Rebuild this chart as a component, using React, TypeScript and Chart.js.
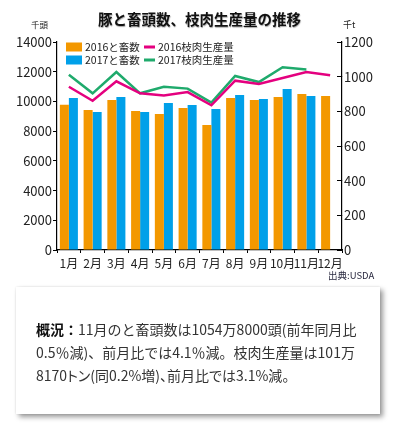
import React, { useEffect, useRef } from "react";
import { Chart, registerables } from "chart.js";

Chart.register(...registerables);

const months = ["1月", "2月", "3月", "4月", "5月", "6月", "7月", "8月", "9月", "10月", "11月", "12月"];
const heads2016 = [9780, 9420, 10100, 9360, 9150, 9560, 8410, 10230, 10100, 10300, 10500, 10370];
const heads2017: (number | null)[] = [10230, 9290, 10300, 9290, 9890, 9760, 9490, 10430, 10160, 10840, 10370, null];
const carcass2016 = [942, 861, 973, 904, 892, 911, 835, 977, 958, 992, 1027, 1008];
const carcass2017: (number | null)[] = [1011, 904, 1027, 904, 942, 931, 850, 1004, 969, 1054, 1042, null];
const seriesLabels = ["2016と畜数", "2017と畜数", "2016枝肉生産量", "2017枝肉生産量"];
const leftAxis = { min: 0, max: 14000, step: 2000 };
const rightAxis = { min: 0, max: 1200, step: 200 };

const FONT = "'Noto Sans CJK JP', 'Noto Sans', sans-serif";
const ORANGE = "#F39800";
const BLUE = "#00A0E9";
const PINK = "#E4007F";
const GREEN = "#1FAA6C";

const insideLegend = {
  id: "insideLegend",
  afterDraw(chart: any) {
    const ctx = chart.ctx;
    const area = chart.chartArea;
    const ds = chart.data.datasets;
    const col1 = area.left + 9;
    const col2 = area.left + 87;
    const rows = [area.top + 5, area.top + 18];
    ctx.save();
    ctx.font = `10.5px ${FONT}`;
    ctx.textBaseline = "middle";
    ctx.textAlign = "left";
    ctx.fillStyle = "#222";
    const items = [
      { d: ds[0], x: col1, y: rows[0], bar: true },
      { d: ds[1], x: col1, y: rows[1], bar: true },
      { d: ds[2], x: col2, y: rows[0], bar: false },
      { d: ds[3], x: col2, y: rows[1], bar: false },
    ];
    for (const it of items) {
      if (it.bar) {
        ctx.fillStyle = it.d.backgroundColor;
        ctx.fillRect(it.x, it.y - 4.5, 16, 9);
        ctx.fillStyle = "#222";
        ctx.fillText(it.d.label, it.x + 19, it.y);
      } else {
        ctx.strokeStyle = it.d.borderColor;
        ctx.lineWidth = 3;
        ctx.beginPath();
        ctx.moveTo(it.x, it.y);
        ctx.lineTo(it.x + 11, it.y);
        ctx.stroke();
        ctx.fillStyle = "#222";
        ctx.fillText(it.d.label, it.x + 14, it.y);
      }
    }
    ctx.restore();
  },
};

const plain = (v: any) => String(v);

function ChartCanvas() {
  const ref = useRef<HTMLCanvasElement | null>(null);
  useEffect(() => {
    if (!ref.current) return;
    Chart.defaults.font.family = FONT;
    Chart.defaults.color = "#222";
    const chart = new Chart(ref.current, {
      type: "bar",
      data: {
        labels: months,
        datasets: [
          { type: "bar", label: seriesLabels[0], data: heads2016, backgroundColor: ORANGE, yAxisID: "y", order: 2, categoryPercentage: 0.76, barPercentage: 1 },
          { type: "bar", label: seriesLabels[1], data: heads2017, backgroundColor: BLUE, yAxisID: "y", order: 2, categoryPercentage: 0.76, barPercentage: 1 },
          { type: "line", label: seriesLabels[2], data: carcass2016, borderColor: PINK, backgroundColor: PINK, borderWidth: 2.5, pointRadius: 0, yAxisID: "y1", order: 1, tension: 0 },
          { type: "line", label: seriesLabels[3], data: carcass2017, borderColor: GREEN, backgroundColor: GREEN, borderWidth: 2.5, pointRadius: 0, yAxisID: "y1", order: 1, tension: 0 },
        ] as any,
      },
      options: {
        animation: false,
        responsive: false,
        devicePixelRatio: 1,
        layout: { padding: { top: 42, left: 0, right: 0, bottom: 0 }, autoPadding: false } as any,
        plugins: { legend: { display: false }, tooltip: { enabled: false }, title: { display: false } },
        scales: {
          x: {
            offset: true,
            grid: { display: true, drawOnChartArea: false, offset: true, tickLength: 3, color: "#000" },
            border: { display: true, color: "#000", width: 1.2 },
            ticks: { font: { size: 12 }, color: "#222", padding: 3, maxRotation: 0, autoSkip: false },
            afterFit: (s: any) => { s.height = 35; },
          },
          y: {
            position: "left",
            min: leftAxis.min,
            max: leftAxis.max,
            ticks: { stepSize: leftAxis.step, font: { size: 13 }, color: "#222", padding: 1, callback: plain },
            grid: { display: true, drawOnChartArea: false, tickLength: 4, color: "#000" },
            border: { display: true, color: "#000", width: 1.2 },
            afterFit: (s: any) => { s.width = 57; },
          },
          y1: {
            position: "right",
            min: rightAxis.min,
            max: rightAxis.max,
            ticks: { stepSize: rightAxis.step, font: { size: 13 }, color: "#222", padding: 7, callback: plain },
            grid: { display: true, drawOnChartArea: false, tickLength: -5, color: "#000" },
            border: { display: true, color: "#000", width: 1.2 },
            afterFit: (s: any) => { s.width = 51; },
          },
        },
      } as any,
      plugins: [insideLegend],
    });
    return () => chart.destroy();
  }, []);
  return <canvas ref={ref} width={393} height={285} style={{ position: "absolute", left: 0, top: 0, width: 393, height: 285 }} />;
}

export default function App() {
  return (
    <div style={{ position: "absolute", left: 0, top: 0, width: 393, height: 434, background: "#fff", fontFamily: FONT, overflow: "hidden" }}>
      <ChartCanvas />
      <div style={{ position: "absolute", left: 0, top: 9, width: 399, textAlign: "center", fontSize: 14.5, fontWeight: 700, lineHeight: "20px", color: "#111", textShadow: "0.5px 0.5px 1px rgba(0,0,0,0.35)", whiteSpace: "nowrap" }}>
        豚と畜頭数、枝肉生産量の推移
      </div>
      <div style={{ position: "absolute", left: 31, top: 19, fontSize: 8.5, lineHeight: "11px", color: "#222" }}>千頭</div>
      <div style={{ position: "absolute", left: 343, top: 19, fontSize: 9, lineHeight: "11px", color: "#222" }}>千t</div>
      <div style={{ position: "absolute", left: 328, top: 269, fontSize: 9.5, lineHeight: "12px", color: "#2a2a40", whiteSpace: "nowrap" }}>出典:USDA</div>
      <div style={{ position: "absolute", left: 16, top: 287, width: 364, height: 127, background: "#fff", boxShadow: "3px 3px 5px rgba(0,0,0,0.4), 0 0 2px rgba(0,0,0,0.12)", boxSizing: "border-box", padding: "31px 0 0 20px", fontSize: 14, lineHeight: "23px", color: "#333", whiteSpace: "nowrap" }}>
        <b style={{ color: "#111" }}>概況：</b>11月のと畜頭数は1054万8000頭(前年同月比<br />
        0.5％減)、前月比では4.1％減。枝肉生産量は101万<br />
        <span style={{ fontFeatureSettings: '"palt"' }}>8170トン(同0.2%増)、前月比では3.1%減。</span>
      </div>
    </div>
  );
}
